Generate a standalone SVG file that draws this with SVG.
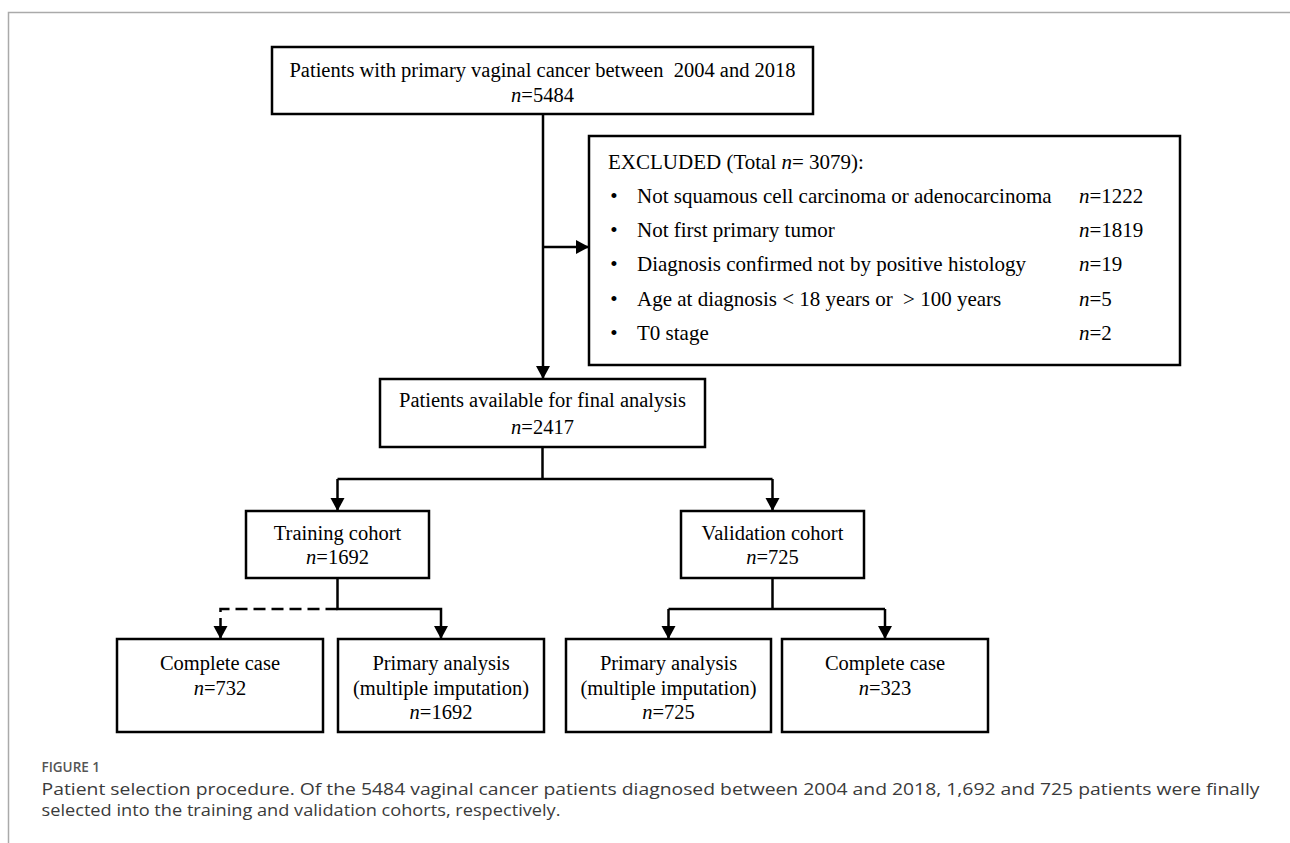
<svg xmlns="http://www.w3.org/2000/svg" width="1290" height="843" viewBox="0 0 1290 843">
<style>
.box{fill:#fff;stroke:#000;stroke-width:2.5}
.t{font-family:"Liberation Serif","Times New Roman",serif;font-size:20.5px;fill:#000}
.tx{font-family:"Liberation Serif","Times New Roman",serif;font-size:21px;fill:#000}
.c{text-anchor:middle}
.ln{fill:none;stroke:#000;stroke-width:2.5}
.dash{stroke-dasharray:12 6}
.cap{font-family:"Open Sans","Liberation Sans",sans-serif;font-size:16.5px;fill:#3a3a3a}
.fig{font-family:"Open Sans","Liberation Sans",sans-serif;font-size:13.5px;font-weight:600;fill:#555}
.frame{stroke:#aaa;stroke-width:1.5;fill:none}
</style>
<defs>
<marker id="ah" markerUnits="userSpaceOnUse" markerWidth="15" markerHeight="15" refX="13" refY="7" orient="auto">
<path d="M0,0 L13,7 L0,14 z" fill="#000"/>
</marker>
</defs>
<rect width="1290" height="843" fill="#fff"/>
<path class="frame" d="M8.5,843 V12.5 H1290"/>

<g id="connectors">
<path class="ln" d="M543,114 V379" marker-end="url(#ah)"/>
<path class="ln" d="M543,247 H589" marker-end="url(#ah)"/>
<path class="ln" d="M542.5,447 V479"/>
<path class="ln" d="M337.5,479 H772.5"/>
<path class="ln" d="M337.5,479 V511" marker-end="url(#ah)"/>
<path class="ln" d="M772.5,479 V511" marker-end="url(#ah)"/>
<path class="ln" d="M337.5,578 V609 H441 V639" marker-end="url(#ah)"/>
<path class="ln dash" d="M337.5,609 H220.5 V639" marker-end="url(#ah)"/>
<path class="ln" d="M772.5,578 V609"/>
<path class="ln" d="M668.5,609 H885"/>
<path class="ln" d="M668.5,609 V639" marker-end="url(#ah)"/>
<path class="ln" d="M885,609 V639" marker-end="url(#ah)"/>
</g>

<g id="n-start">
<rect class="box" x="272" y="47" width="541" height="67"/>
<text class="t c" x="542.5" y="77" xml:space="preserve">Patients with primary vaginal cancer between  2004 and 2018</text>
<text class="t c" x="542.5" y="102"><tspan font-style="italic">n</tspan>=5484</text>
</g>

<g id="n-excluded">
<rect class="box" x="589" y="136" width="591" height="229"/>
<text class="tx" x="608" y="169">EXCLUDED (Total <tspan font-style="italic">n</tspan>= 3079):</text>
<g class="tx">
<text x="614" y="203" text-anchor="middle">•</text>
<text x="637" y="203">Not squamous cell carcinoma or adenocarcinoma</text>
<text x="1079" y="203"><tspan font-style="italic">n</tspan>=1222</text>
<text x="614" y="237" text-anchor="middle">•</text>
<text x="637" y="237">Not first primary tumor</text>
<text x="1079" y="237"><tspan font-style="italic">n</tspan>=1819</text>
<text x="614" y="271" text-anchor="middle">•</text>
<text x="637" y="271">Diagnosis confirmed not by positive histology</text>
<text x="1079" y="271"><tspan font-style="italic">n</tspan>=19</text>
<text x="614" y="306" text-anchor="middle">•</text>
<text x="637" y="306" xml:space="preserve">Age at diagnosis &lt; 18 years or  &gt; 100 years</text>
<text x="1079" y="306"><tspan font-style="italic">n</tspan>=5</text>
<text x="614" y="340" text-anchor="middle">•</text>
<text x="637" y="340">T0 stage</text>
<text x="1079" y="340"><tspan font-style="italic">n</tspan>=2</text>
</g>
</g>

<g id="n-final">
<rect class="box" x="380" y="379" width="325" height="68"/>
<text class="t c" x="542.5" y="407">Patients available for final analysis</text>
<text class="t c" x="542.5" y="434"><tspan font-style="italic">n</tspan>=2417</text>
</g>

<g id="n-training">
<rect class="box" x="246" y="511" width="183" height="67"/>
<text class="t c" x="337.5" y="540">Training cohort</text>
<text class="t c" x="337.5" y="564"><tspan font-style="italic">n</tspan>=1692</text>
</g>

<g id="n-validation">
<rect class="box" x="681" y="511" width="183" height="67"/>
<text class="t c" x="772.5" y="540">Validation cohort</text>
<text class="t c" x="772.5" y="564"><tspan font-style="italic">n</tspan>=725</text>
</g>

<g id="n-train-complete">
<rect class="box" x="117" y="639" width="206" height="93"/>
<text class="t c" x="220" y="670">Complete case</text>
<text class="t c" x="220" y="695"><tspan font-style="italic">n</tspan>=732</text>
</g>

<g id="n-train-primary">
<rect class="box" x="338" y="639" width="206" height="93"/>
<text class="t c" x="441" y="670">Primary analysis</text>
<text class="t c" x="441" y="695">(multiple imputation)</text>
<text class="t c" x="441" y="719"><tspan font-style="italic">n</tspan>=1692</text>
</g>

<g id="n-valid-primary">
<rect class="box" x="566" y="639" width="205" height="93"/>
<text class="t c" x="668.5" y="670">Primary analysis</text>
<text class="t c" x="668.5" y="695">(multiple imputation)</text>
<text class="t c" x="668.5" y="719"><tspan font-style="italic">n</tspan>=725</text>
</g>

<g id="n-valid-complete">
<rect class="box" x="782" y="639" width="206" height="93"/>
<text class="t c" x="885" y="670">Complete case</text>
<text class="t c" x="885" y="695"><tspan font-style="italic">n</tspan>=323</text>
</g>

<g id="caption">
<text class="fig" x="41.5" y="772">FIGURE 1</text>
<text class="cap" x="41.5" y="795" textLength="1218" lengthAdjust="spacingAndGlyphs">Patient selection procedure. Of the 5484 vaginal cancer patients diagnosed between 2004 and 2018, 1,692 and 725 patients were finally</text>
<text class="cap" x="41.5" y="816" textLength="519" lengthAdjust="spacingAndGlyphs">selected into the training and validation cohorts, respectively.</text>
</g>
</svg>
